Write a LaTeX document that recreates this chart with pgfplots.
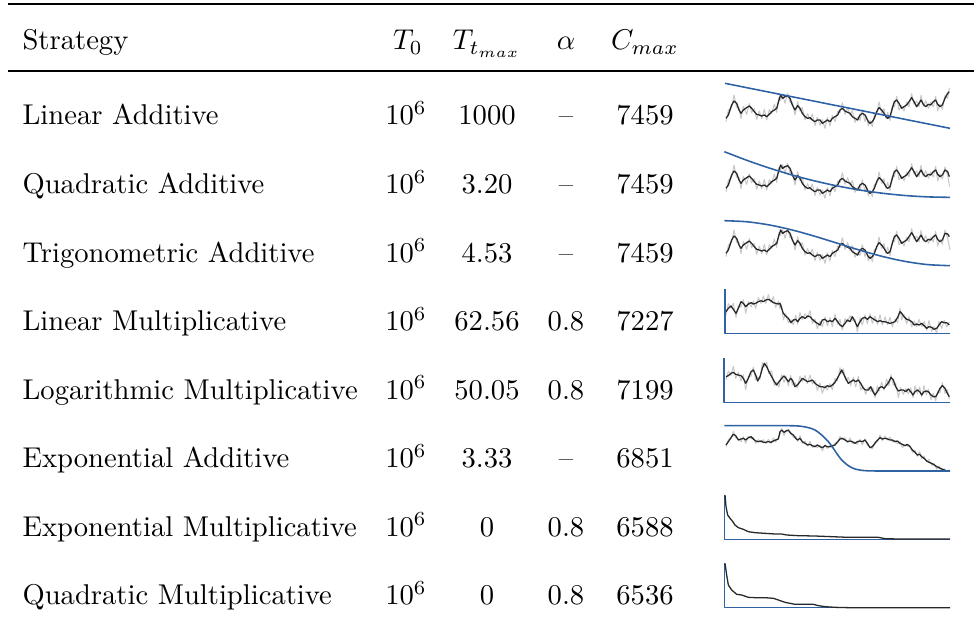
\documentclass[border=0pt]{standalone}
\usepackage{pgfplots}
\pgfplotsset{compat=1.18}
\usepackage{pgfplotstable}
\definecolor{tblue}{RGB}{46,98,163}
\definecolor{tgray}{RGB}{200,200,200}
\definecolor{tblack}{RGB}{40,40,40}
\pgfplotsset{
  spark/.style={scale only axis, hide axis, clip=false, anchor=north west,
    width=90.52pt, xmin=0, xmax=777, ymin=0, y dir=reverse},
  sparkA/.style={spark, height=22.72pt, ymax=195},
  sparkB/.style={spark, height=20.97pt, ymax=180},
  gl/.style={tgray, line width=0.35pt, line join=round, no markers},
  bl/.style={tblack, line width=0.45pt, line join=round, no markers},
  tl/.style={tblue, line width=0.55pt, line join=round, no markers},
}
% row 1 (also rows 2,3): x, black (smoothed), gray (raw)
\pgfplotstableread[row sep=\\]{
x b g\\
33 130 140\\ 40 120 106\\ 50 90 96\\ 57 78 60\\ 65 85 97\\ 72 105 97\\ 78 115 131\\ 85 105 94\\
95 98 118\\ 103 93 86\\ 110 100 113\\ 118 110 101\\ 125 118 133\\ 133 120 108\\ 140 123 131\\ 148 120 103\\
155 125 135\\ 163 118 104\\ 170 110 116\\ 178 105 87\\ 185 100 112\\ 192 75 67\\ 197 60 76\\ 203 70 59\\
210 65 85\\ 218 62 55\\ 225 70 83\\ 232 90 81\\ 240 105 120\\ 248 92 80\\ 255 100 108\\ 262 115 98\\
270 125 135\\ 278 130 116\\ 285 128 134\\ 292 135 117\\ 300 140 152\\ 307 135 127\\ 315 135 151\\ 322 145 134\\
330 140 160\\ 337 135 128\\ 345 140 153\\ 352 130 121\\ 360 125 140\\ 368 120 108\\ 375 105 113\\ 382 100 83\\
390 108 118\\ 398 112 98\\ 405 115 121\\ 412 125 107\\ 420 130 142\\ 428 135 127\\ 435 120 136\\ 442 115 104\\
450 120 140\\ 455 130 123\\ 460 140 153\\ 465 145 136\\ 472 140 155\\ 478 130 118\\ 485 110 118\\ 492 98 81\\
500 105 115\\ 507 115 101\\ 513 125 131\\ 518 130 112\\ 525 125 137\\ 532 100 92\\ 538 80 96\\ 545 75 64\\
552 85 105\\ 560 100 93\\ 567 95 108\\ 575 90 81\\ 582 80 95\\ 590 68 56\\ 597 80 88\\ 605 95 78\\
612 85 95\\ 618 75 61\\ 625 88 94\\ 632 95 77\\ 640 88 100\\ 647 90 82\\ 655 80 96\\ 662 75 64\\
668 88 108\\ 675 95 88\\ 682 90 103\\ 690 70 61\\ 698 55 70\\ 703 50 38\\
}\rowA
\pgfplotstableread[row sep=\\]{
x b g\\
33 95 105\\ 40 85 71\\ 48 78 84\\ 55 88 70\\ 63 100 112\\ 70 85 77\\ 78 65 81\\ 85 70 59\\
92 80 100\\ 100 72 65\\ 108 68 81\\ 115 72 63\\ 122 70 85\\ 130 65 53\\ 138 62 70\\ 145 65 48\\
152 60 70\\ 160 58 44\\ 168 62 68\\ 175 68 50\\ 182 70 82\\ 190 72 64\\ 195 70 86\\ 200 85 74\\
205 100 120\\ 212 108 101\\ 220 115 128\\ 228 128 119\\ 235 120 135\\ 242 118 106\\ 248 125 133\\ 255 115 98\\
262 110 120\\ 270 115 101\\ 278 108 114\\ 285 110 92\\ 292 118 130\\ 300 125 117\\ 307 130 146\\ 315 135 124\\
322 120 140\\ 330 118 111\\ 337 125 138\\ 345 122 113\\ 352 125 140\\ 360 115 103\\ 368 125 133\\ 375 135 118\\
382 140 150\\ 390 130 116\\ 397 120 126\\ 405 125 107\\ 412 110 122\\ 420 125 117\\ 427 140 156\\ 435 125 114\\
442 115 135\\ 450 112 105\\ 457 118 131\\ 465 110 101\\ 472 115 130\\ 480 120 108\\ 488 125 133\\ 495 122 105\\
502 125 135\\ 510 125 111\\ 518 128 134\\ 525 130 112\\ 532 128 140\\ 540 125 117\\ 548 112 128\\ 555 95 84\\
560 100 120\\ 567 110 103\\ 575 118 131\\ 582 120 111\\ 590 125 140\\ 598 135 123\\ 605 132 140\\ 612 135 118\\
620 130 140\\ 628 138 124\\ 635 145 151\\ 642 140 122\\ 650 142 154\\ 657 148 140\\ 665 145 159\\ 672 135 124\\
680 125 145\\ 688 128 121\\ 695 128 141\\ 703 135 126\\
}\rowD
\pgfplotstableread[row sep=\\]{
x b g\\
33 95 105\\ 40 92 78\\ 48 85 91\\ 55 82 64\\ 62 88 100\\ 70 90 82\\ 78 92 108\\ 85 100 89\\
92 115 135\\ 100 100 93\\ 108 80 93\\ 115 75 66\\ 122 90 105\\ 128 108 96\\ 135 95 103\\ 142 70 53\\
148 55 65\\ 155 65 51\\ 162 80 86\\ 170 95 77\\ 178 110 122\\ 185 120 112\\ 192 110 126\\ 200 100 89\\
207 93 113\\ 213 100 93\\ 220 110 123\\ 227 100 91\\ 232 105 120\\ 240 125 113\\ 247 120 128\\ 255 110 93\\
262 100 110\\ 270 105 91\\ 277 110 116\\ 285 108 90\\ 292 105 117\\ 300 115 107\\ 307 120 136\\ 315 125 114\\
322 125 145\\ 330 128 121\\ 337 122 135\\ 345 125 116\\ 352 120 135\\ 360 112 100\\ 367 100 108\\ 375 85 68\\
380 75 85\\ 385 85 71\\ 392 100 106\\ 400 115 97\\ 407 110 122\\ 415 105 97\\ 422 110 126\\ 430 105 94\\
437 115 135\\ 445 130 123\\ 452 135 148\\ 460 135 126\\ 467 125 140\\ 474 140 128\\ 480 150 158\\ 487 140 123\\
493 128 138\\ 500 125 111\\ 507 130 136\\ 515 120 102\\ 522 110 122\\ 528 97 89\\ 535 105 121\\ 542 125 114\\
550 138 158\\ 557 135 128\\ 565 135 148\\ 572 140 131\\ 580 132 147\\ 587 140 128\\ 594 150 158\\ 600 140 123\\
607 135 145\\ 614 140 126\\ 620 150 156\\ 627 140 122\\ 634 138 150\\ 640 140 132\\ 648 150 164\\ 655 155 144\\
662 155 168\\ 668 145 138\\ 675 130 143\\ 682 122 113\\ 690 130 145\\ 697 145 133\\ 703 155 163\\
}\rowE
\pgfplotstableread[row sep=\\]{
x b g\\
33 90 95\\ 40 80 73\\ 48 68 71\\ 55 58 49\\ 62 62 68\\ 70 75 71\\ 78 72 80\\ 85 70 65\\
92 75 85\\ 100 68 65\\ 108 65 71\\ 115 72 68\\ 122 78 85\\ 130 80 74\\ 138 78 82\\ 145 82 74\\
152 82 87\\ 160 80 73\\ 168 82 85\\ 175 78 69\\ 182 75 81\\ 190 72 68\\ 195 50 58\\ 200 45 40\\
207 52 62\\ 213 48 45\\ 220 45 51\\ 227 55 51\\ 235 60 67\\ 242 70 64\\ 248 75 79\\ 255 70 62\\
262 80 85\\ 270 85 78\\ 278 90 93\\ 285 88 79\\ 292 92 98\\ 300 95 91\\ 307 90 98\\ 315 95 90\\
322 98 108\\ 330 92 89\\ 337 95 101\\ 345 95 91\\ 352 92 99\\ 360 90 84\\ 368 80 84\\ 375 72 64\\
382 70 75\\ 390 75 68\\ 398 80 83\\ 405 78 69\\ 412 80 86\\ 420 85 81\\ 427 80 88\\ 435 78 73\\
442 80 90\\ 450 75 72\\ 457 85 91\\ 465 98 94\\ 472 95 102\\ 480 85 79\\ 488 75 79\\ 495 68 60\\
502 72 77\\ 510 70 63\\ 518 72 75\\ 525 75 66\\ 532 75 81\\ 540 80 76\\ 547 78 86\\ 555 85 80\\
562 88 98\\ 570 92 89\\ 577 88 94\\ 585 95 91\\ 592 105 112\\ 600 112 106\\ 607 120 124\\ 614 118 110\\
620 125 130\\ 627 130 123\\ 635 138 141\\ 642 142 133\\ 650 145 151\\ 658 150 146\\ 665 155 163\\ 672 158 153\\
680 162 166\\ 688 165 162\\ 695 168 168\\ 703 168 164\\
}\rowF
\begin{document}
\begin{tikzpicture}[x=0.3495pt, y=-0.3495pt]
\useasboundingbox (0,0) rectangle (974,631);
% rules
\draw[line width=0.6pt] (8,4) -- (974,4);
\draw[line width=0.4pt] (8,71) -- (974,71);
% header
\node[anchor=base west, inner sep=0pt] at (22,50) {Strategy};
\node[anchor=base, inner sep=0pt] at (408,50) {$T_0$};
\node[anchor=base, inner sep=0pt] at (487,50) {$T_{t_{max}}$};
\node[anchor=base, inner sep=0pt] at (566,50) {$\alpha$};
\node[anchor=base, inner sep=0pt] at (645,50) {$C_{max}$};
% rows
\foreach \yy/\name/\tt/\aa/\cc in {
  125/Linear Additive/1000/--/7459,
  193.5/Quadratic Additive/3.20/--/7459,
  262/Trigonometric Additive/4.53/--/7459,
  330.5/Linear Multiplicative/62.56/0.8/7227,
  399/Logarithmic Multiplicative/50.05/0.8/7199,
  467.5/Exponential Additive/3.33/--/6851,
  536/Exponential Multiplicative/0/0.8/6588,
  604.5/Quadratic Multiplicative/0/0.8/6536}{
  \node[anchor=base west, inner sep=0pt] at (22,\yy) {\name};
  \node[anchor=base, inner sep=0pt] at (406,\yy) {$10^6$};
  \node[anchor=base, inner sep=0pt] at (487,\yy) {\tt};
  \node[anchor=base, inner sep=0pt] at (566,\yy) {\aa};
  \node[anchor=base, inner sep=0pt] at (645,\yy) {\cc};
}
% row 1: Linear Additive
\begin{axis}[sparkA, at={(249.89pt,-26.21pt)}]
\addplot[gl] table[x=x, y=g] {\rowA};
\addplot[bl] table[x=x, y=b] {\rowA};
\addplot[tl] coordinates {(30,25) (705,160)};
\end{axis}
% row 2: Quadratic Additive
\begin{axis}[sparkB, at={(249.89pt,-50.68pt)}]
\addplot[gl, restrict x to domain=0:683] table[x=x, y=g] {\rowA};
\addplot[gl] coordinates {(682,103) (690,66) (698,92) (704,125)};
\addplot[bl, restrict x to domain=0:683] table[x=x, y=b] {\rowA};
\addplot[bl] coordinates {(682,90) (690,75) (698,80) (703,95)};
\addplot[tl, smooth] coordinates {(28,20) (95.7,46) (163.4,69.3) (231.1,90) (298.8,107.7) (366.5,122.75) (434.2,135.1) (501.9,144.7) (569.6,151.5) (637.3,155.6) (705,157)};
\end{axis}
% row 3: Trigonometric Additive
\begin{axis}[sparkB, at={(249.89pt,-73.40pt)}]
\addplot[gl, restrict x to domain=0:683] table[x=x, y=g] {\rowA};
\addplot[gl] coordinates {(682,103) (690,60) (698,85) (705,120)};
\addplot[bl, restrict x to domain=0:683] table[x=x, y=b] {\rowA};
\addplot[bl] coordinates {(682,90) (690,70) (698,72) (703,80)};
\addplot[tl, smooth] coordinates {(28,32) (95.7,35.3) (163.4,44.9) (231.1,59.8) (298.8,78.6) (366.5,99.5) (434.2,120.4) (501.9,139.2) (569.6,154.1) (637.3,163.7) (705,167)};
\end{axis}
% row 4: Linear Multiplicative
\begin{axis}[sparkB, at={(249.89pt,-97.86pt)}]
\addplot[gl] table[x=x, y=g] {\rowD};
\addplot[bl] table[x=x, y=b] {\rowD};
\addplot[tl] coordinates {(30,28) (30,160) (705,160)};
\end{axis}
% row 5: Logarithmic Multiplicative
\begin{axis}[sparkB, at={(249.89pt,-120.58pt)}]
\addplot[gl] table[x=x, y=g] {\rowE};
\addplot[bl] table[x=x, y=b] {\rowE};
\addplot[tl] coordinates {(27,40) (27,172) (705,172)};
\end{axis}
% row 6: Exponential Additive
\begin{axis}[sparkB, at={(249.89pt,-145.04pt)}]
\addplot[gl] table[x=x, y=g] {\rowF};
\addplot[bl] table[x=x, y=b] {\rowF};
\addplot[tl, smooth] coordinates {(28,32) (200,32) (250,33) (280,38) (300,45) (320,60) (340,80) (355,100) (365,115) (380,135) (400,152) (420,162) (450,167) (500,168) (705,168)};
\end{axis}
% row 7: Exponential Multiplicative
\begin{axis}[sparkB, at={(249.89pt,-169.51pt)}]
\addplot[tl] coordinates {(28,30) (28,163) (705,163)};
\addplot[bl] coordinates {(30,30) (33,65) (38,90) (45,100) (52,108) (60,120) (70,128) (85,133) (100,140) (120,143) (150,145) (180,147) (200,147) (215,150) (250,152) (300,153) (350,155) (400,157) (450,157) (490,157) (510,161) (550,162) (600,162) (705,162)};
\end{axis}
% row 8: Quadratic Multiplicative
\begin{axis}[sparkB, at={(249.89pt,-193.97pt)}]
\addplot[tl] coordinates {(28,25) (28,158) (705,158)};
\addplot[bl] coordinates {(30,25) (35,60) (40,90) (50,105) (65,118) (80,120) (100,127) (120,128) (150,128) (175,130) (190,135) (210,142) (240,148) (270,148) (295,148) (310,152) (330,155) (360,157) (400,158) (705,158)};
\end{axis}
\end{tikzpicture}
\end{document}
